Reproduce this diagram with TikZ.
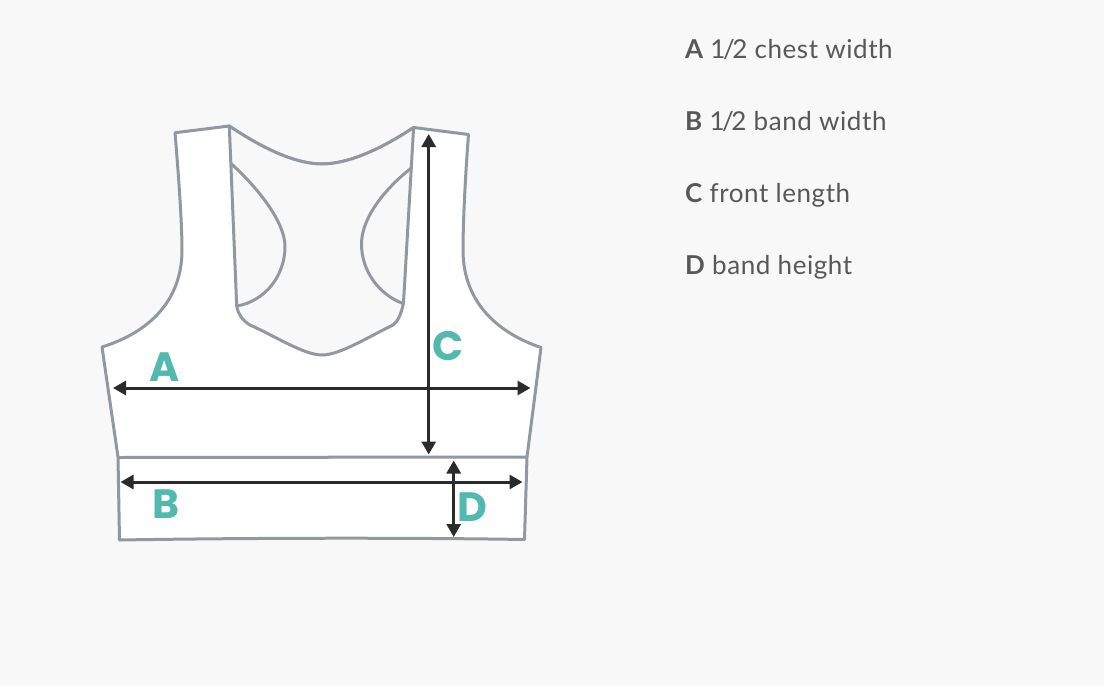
\documentclass[tikz,border=0pt]{standalone}
\usepackage{fontspec}
\setmainfont{Lato}
\newfontfamily\letterfont{Poppins}
\newfontfamily\spacedfont[LetterSpace=2.2]{Lato}
\usetikzlibrary{arrows.meta}
\definecolor{bgc}{HTML}{F8F8F8}
\definecolor{garment}{HTML}{9298A0}
\definecolor{teal}{HTML}{52B9AF}
\definecolor{dim}{HTML}{2B2B2B}
\definecolor{legend}{HTML}{585858}
\newcommand{\half}{1\kern-2.5pt/\kern-2.5pt2}
\newcommand{\keyletter}[1]{{\fontspec{Lato}[LetterSpace=2.2]\bfseries #1}}
\tikzset{
  seam/.style={draw=garment,line width=3pt,line join=round},
  measure/.style={draw=dim,line width=3pt,{Triangle[length=13pt,width=14pt]}-{Triangle[length=13pt,width=14pt]}},
  tag/.style={text=teal,font=\letterfont\bfseries\fontsize{41pt}{41pt}\selectfont,inner sep=0pt},
  legendtext/.style={text=legend,font=\spacedfont\fontsize{26pt}{30pt}\selectfont,anchor=base west,inner sep=0pt},
}
\begin{document}
\begin{tikzpicture}[x=1pt,y=-1pt]
\useasboundingbox (0,0) rectangle (1104,686);
\fill[bgc] (0,0) rectangle (1104,686);
% body
\path[seam,fill=white] (175,132.7) -- (229.3,126)
  .. controls (262,148) and (295,164) .. (322,164)
  .. controls (349,164) and (383,148) .. (413.6,127.5)
  -- (468.5,134.5)
  .. controls (465,180) and (463,225) .. (463,250)
  .. controls (463,300) and (495,332) .. (541,347.5)
  -- (527,457) -- (524.5,539.5)
  .. controls (400,537.5) and (240,538) .. (119.5,540)
  -- (118,457) -- (102,347)
  .. controls (150,332) and (182,300) .. (182,250)
  .. controls (182,225) and (179,180) .. (175,132.7) -- cycle;
% back opening
\path[seam,fill=bgc] (229.3,126)
  .. controls (262,148) and (295,164) .. (322,164)
  .. controls (349,164) and (383,148) .. (413.6,127.5)
  -- (403.5,303)
  .. controls (401,315) and (398,321) .. (393,325)
  .. controls (370,336) and (340,355) .. (322,355)
  .. controls (304,355) and (275,336) .. (250,325)
  .. controls (242,320) and (238,314) .. (236.7,306)
  -- cycle;
% armholes
\draw[seam] (231,163.5) .. controls (258,188) and (285,222) .. (285,246.5)
  .. controls (285,276) and (265,301) .. (237,306);
\draw[seam] (412,167.5) .. controls (388,186) and (361.5,216) .. (361.5,244)
  .. controls (361.5,272) and (380,295) .. (403,303.5);
% band line
\draw[seam] (118,457.5) -- (527,457);
% arrow ends
\coordinate (al) at (113,388); \coordinate (ar) at (530.5,388);
\coordinate (bl) at (120.5,482); \coordinate (br) at (522.5,482);
\coordinate (ct) at (428.7,134); \coordinate (cb) at (428.7,454.5);
\coordinate (dt) at (453.7,460.5); \coordinate (db) at (453.7,537);
\draw[measure] (al) -- (ar);
\draw[measure] (bl) -- (br);
\draw[measure] (ct) -- (cb);
\draw[measure] (dt) -- (db);
% letter tags
\node[tag] (tagA) at (164.5,367) {A};
\node[tag] (tagB) at (166,504) {B};
\node[tag] (tagC) at (448,346.5) {C};
\node[tag] (tagD) at (472,507) {D};
% legend
\node[legendtext] (legA) at (685,58) {\keyletter{A} \half{} chest width};
\node[legendtext] (legB) at (685,130) {\keyletter{B} \half{} band width};
\node[legendtext] (legC) at (685,202) {\keyletter{C} front length};
\node[legendtext] (legD) at (685,274) {\keyletter{D} band height};
\end{tikzpicture}
\end{document}
